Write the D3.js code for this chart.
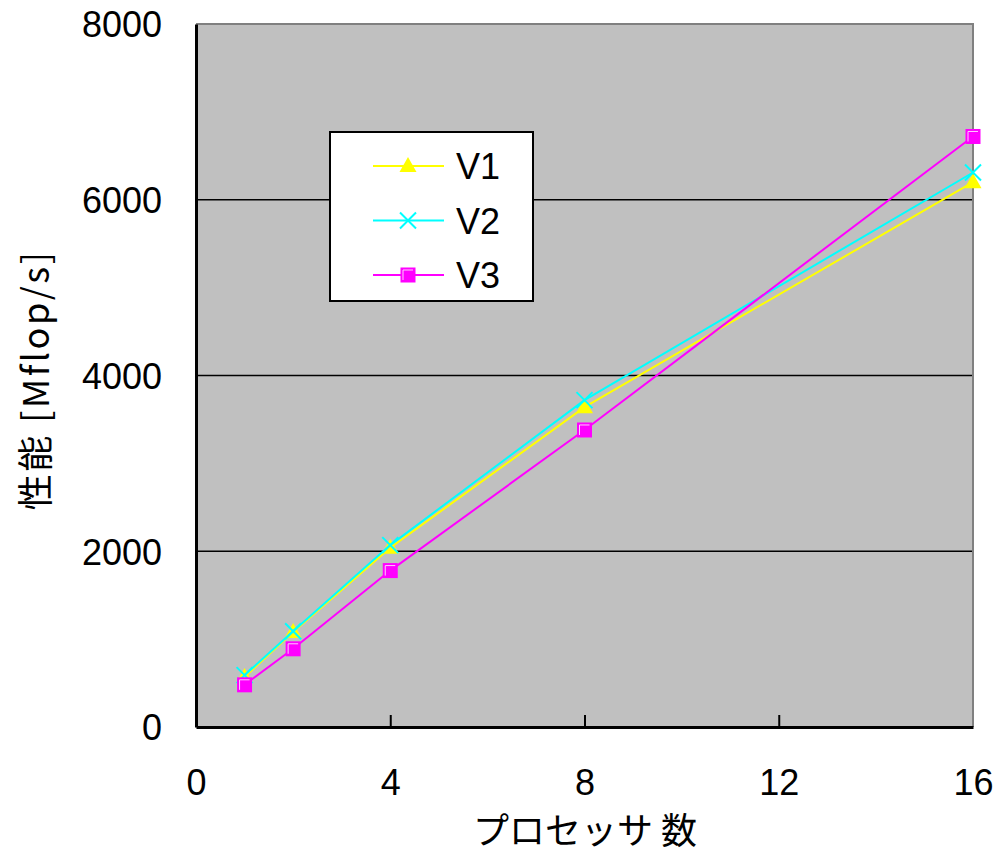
<!DOCTYPE html>
<html>
<head>
<meta charset="utf-8">
<script src="https://cdn.jsdelivr.net/npm/d3@7"></script>
<style>
  html, body { margin: 0; padding: 0; background: #fff; }
  svg { display: block; }
  text { font-family: "Liberation Sans", Arial, "Noto Sans CJK JP", sans-serif; }
</style>
</head>
<body>
<svg id="chart" width="996" height="862"></svg>
<script>
// Processor counts and measured performance (Mflop/s)
const processors = [1, 2, 4, 8, 16];
const v1 = [570, 1080, 2040, 3640, 6200];
const v2 = [590, 1090, 2070, 3720, 6310];
const v3 = [480, 890, 1780, 3380, 6720];
const seriesNames = ["V1", "V2", "V3"];
const seriesColors = ["#ffff00", "#00ffff", "#ff00ff"];
const seriesMarkers = ["triangle", "cross", "square"];
const xTicks = [0, 4, 8, 12, 16];
const yTicks = [0, 2000, 4000, 6000, 8000];
const xTitle = "プロセッサ 数";
const yTitle = "性能 [Mflop/s]";

const svg = d3.select("#chart");
const plot = { left: 196, right: 973, top: 24, bottom: 727 };

const x = d3.scaleLinear().domain([0, 16]).range([plot.left, plot.right]);
const y = d3.scaleLinear().domain([0, 8000]).range([plot.bottom, plot.top]);

// plot background
svg.append("rect")
  .attr("x", plot.left).attr("y", plot.top)
  .attr("width", plot.right - plot.left).attr("height", plot.bottom - plot.top)
  .attr("fill", "#c0c0c0");

// horizontal gridlines
svg.append("g")
  .selectAll("line")
  .data(yTicks.filter(d => d > 0 && d < 8000))
  .join("line")
  .attr("x1", plot.left).attr("x2", plot.right)
  .attr("y1", d => y(d)).attr("y2", d => y(d))
  .attr("stroke", "#000").attr("stroke-width", 1.3);

// top and right frame (gray)
svg.append("path")
  .attr("d", `M${plot.left},${plot.top}H${plot.right}V${plot.bottom}`)
  .attr("fill", "none").attr("stroke", "#808080").attr("stroke-width", 2);

// x axis: inward ticks
const xAxis = svg.append("g")
  .attr("transform", `translate(0,${plot.bottom})`)
  .call(d3.axisBottom(x).tickValues(xTicks).tickFormat(d3.format("d"))
    .tickSizeInner(-12).tickSizeOuter(0).tickPadding(0));
xAxis.select(".domain").attr("stroke", "#000").attr("stroke-width", 3);
xAxis.selectAll(".tick line").attr("stroke", "#000").attr("stroke-width", 2)
  .filter(d => d === 0 || d === 16).remove();
xAxis.selectAll(".tick text")
  .attr("font-size", 36).attr("fill", "#000")
  .attr("dy", null).attr("y", 68);

// y axis
const yAxis = svg.append("g")
  .attr("transform", `translate(${plot.left},0)`)
  .call(d3.axisLeft(y).tickValues(yTicks).tickFormat(d3.format("d"))
    .tickSize(0).tickPadding(34));
yAxis.select(".domain").attr("stroke", "#000").attr("stroke-width", 3);
yAxis.selectAll(".tick text")
  .attr("font-size", 36).attr("fill", "#000").attr("dy", "0.36em");

// axis titles
svg.append("text")
  .attr("x", 585).attr("y", 844)
  .attr("text-anchor", "middle")
  .attr("font-size", 36)
  .style("font-family", "'Noto Sans CJK JP', sans-serif")
  .text(xTitle);

svg.append("text")
  .attr("transform", "translate(49,380) rotate(-90)")
  .attr("text-anchor", "middle")
  .attr("font-size", 36)
  .attr("letter-spacing", 2.5)
  .style("font-family", "'Noto Sans CJK JP', sans-serif")
  .text(yTitle);

// markers
function drawMarker(g, type, color, cx, cy) {
  if (type === "triangle") {
    g.append("path")
      .attr("d", `M${cx},${cy - 9}L${cx + 8.5},${cy + 6}L${cx - 8.5},${cy + 6}Z`)
      .attr("fill", color);
  } else if (type === "cross") {
    g.append("path")
      .attr("d", `M${cx - 8},${cy - 8}L${cx + 8},${cy + 8}M${cx + 8},${cy - 8}L${cx - 8},${cy + 8}`)
      .attr("stroke", color).attr("stroke-width", 2).attr("fill", "none");
  } else {
    g.append("rect")
      .attr("x", cx - 7.5).attr("y", cy - 7.5).attr("width", 15).attr("height", 15)
      .attr("fill", color);
    g.append("path")
      .attr("d", `M${cx - 5},${cy + 5}V${cy - 5}H${cx + 5}`)
      .attr("stroke", "#ffccff").attr("stroke-width", 1).attr("fill", "none");
  }
}

const seriesValues = [v1, v2, v3];
const line = d3.line().x(d => x(d[0])).y(d => y(d[1]));

seriesValues.forEach((vals, i) => {
  const pts = processors.map((p, j) => [p, vals[j]]);
  const g = svg.append("g");
  g.append("path")
    .attr("d", line(pts))
    .attr("fill", "none")
    .attr("stroke", seriesColors[i])
    .attr("stroke-width", 2);
  pts.forEach(p => drawMarker(g, seriesMarkers[i], seriesColors[i], x(p[0]), y(p[1])));
});

// legend
const legend = svg.append("g");
legend.append("rect")
  .attr("x", 330).attr("y", 132).attr("width", 203).attr("height", 169)
  .attr("fill", "#fff").attr("stroke", "#000").attr("stroke-width", 2);

seriesNames.forEach((name, i) => {
  const cy = 166 + i * 54.5;
  legend.append("line")
    .attr("x1", 373).attr("x2", 444).attr("y1", cy).attr("y2", cy)
    .attr("stroke", seriesColors[i]).attr("stroke-width", 2);
  drawMarker(legend, seriesMarkers[i], seriesColors[i], 408, cy);
  legend.append("text")
    .attr("x", 456).attr("y", cy + 13)
    .attr("font-size", 36).attr("fill", "#000")
    .text(name);
});
</script>
</body>
</html>
